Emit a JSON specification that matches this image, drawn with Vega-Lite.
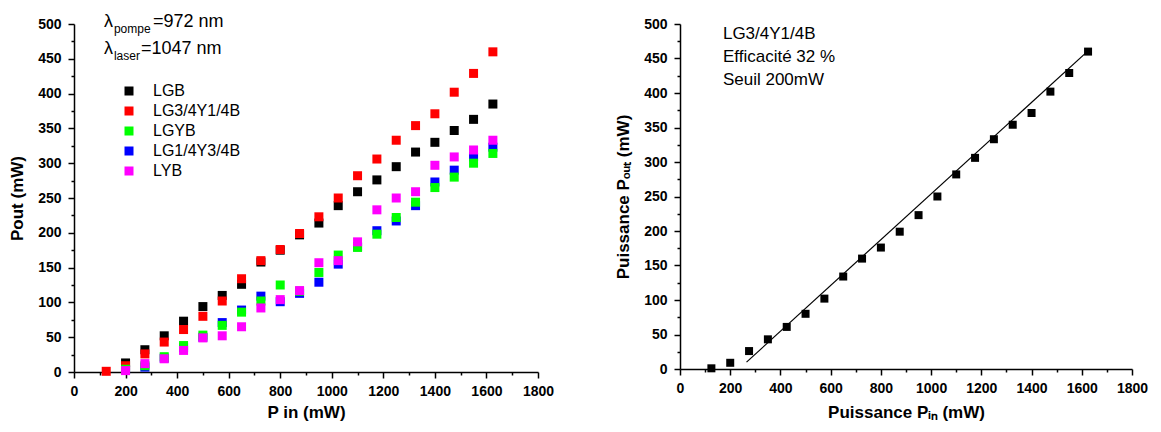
{
  "$schema": "https://vega.github.io/schema/vega-lite/v6.json",
  "padding": {"left": 8, "top": 12, "right": 5, "bottom": 5},
  "bounds": "flush",
  "spacing": 142,
  "background": "white",
  "config": {
    "view": {"stroke": null},
    "font": "Liberation Sans",
    "axis": {
      "grid": false,
      "domainColor": "black", "domainWidth": 1.5,
      "tickColor": "black", "tickWidth": 1.5,
      "labelFont": "Liberation Sans", "labelFontWeight": "bold", "labelFontSize": 14, "labelColor": "black",
      "titleFont": "Liberation Sans", "titleFontWeight": "bold", "titleFontSize": 17, "titleColor": "black",
      "labelOverlap": false, "labelFlush": false, "format": "d", "tickCount": 100
    },
    "axisX": {"labelPadding": 6, "titlePadding": 6},
    "axisY": {"labelPadding": 7, "titlePadding": 11}
  },
  "datasets": {
    "pts": [
      {"series": "LGB", "pin": 200, "pout": 13},
      {"series": "LGB", "pin": 275, "pout": 32},
      {"series": "LGB", "pin": 350, "pout": 52},
      {"series": "LGB", "pin": 425, "pout": 73},
      {"series": "LGB", "pin": 500, "pout": 94},
      {"series": "LGB", "pin": 575, "pout": 110},
      {"series": "LGB", "pin": 650, "pout": 126},
      {"series": "LGB", "pin": 725, "pout": 158},
      {"series": "LGB", "pin": 800, "pout": 175},
      {"series": "LGB", "pin": 875, "pout": 197},
      {"series": "LGB", "pin": 950, "pout": 214},
      {"series": "LGB", "pin": 1025, "pout": 239},
      {"series": "LGB", "pin": 1100, "pout": 259},
      {"series": "LGB", "pin": 1175, "pout": 276},
      {"series": "LGB", "pin": 1250, "pout": 295},
      {"series": "LGB", "pin": 1325, "pout": 316},
      {"series": "LGB", "pin": 1400, "pout": 330},
      {"series": "LGB", "pin": 1475, "pout": 347},
      {"series": "LGB", "pin": 1550, "pout": 363},
      {"series": "LGB", "pin": 1625, "pout": 385},
      {"series": "LG3/4Y1/4B", "pin": 125, "pout": 1},
      {"series": "LG3/4Y1/4B", "pin": 200, "pout": 9},
      {"series": "LG3/4Y1/4B", "pin": 275, "pout": 26},
      {"series": "LG3/4Y1/4B", "pin": 350, "pout": 43},
      {"series": "LG3/4Y1/4B", "pin": 425, "pout": 61},
      {"series": "LG3/4Y1/4B", "pin": 500, "pout": 80},
      {"series": "LG3/4Y1/4B", "pin": 575, "pout": 102},
      {"series": "LG3/4Y1/4B", "pin": 650, "pout": 134},
      {"series": "LG3/4Y1/4B", "pin": 725, "pout": 160},
      {"series": "LG3/4Y1/4B", "pin": 800, "pout": 176},
      {"series": "LG3/4Y1/4B", "pin": 875, "pout": 199},
      {"series": "LG3/4Y1/4B", "pin": 950, "pout": 223},
      {"series": "LG3/4Y1/4B", "pin": 1025, "pout": 250},
      {"series": "LG3/4Y1/4B", "pin": 1100, "pout": 282},
      {"series": "LG3/4Y1/4B", "pin": 1175, "pout": 306},
      {"series": "LG3/4Y1/4B", "pin": 1250, "pout": 333},
      {"series": "LG3/4Y1/4B", "pin": 1325, "pout": 354},
      {"series": "LG3/4Y1/4B", "pin": 1400, "pout": 371},
      {"series": "LG3/4Y1/4B", "pin": 1475, "pout": 402},
      {"series": "LG3/4Y1/4B", "pin": 1550, "pout": 429},
      {"series": "LG3/4Y1/4B", "pin": 1625, "pout": 460},
      {"series": "LG1/4Y3/4B", "pin": 200, "pout": 3},
      {"series": "LG1/4Y3/4B", "pin": 275, "pout": 7},
      {"series": "LG1/4Y3/4B", "pin": 350, "pout": 20},
      {"series": "LG1/4Y3/4B", "pin": 425, "pout": 35},
      {"series": "LG1/4Y3/4B", "pin": 500, "pout": 50},
      {"series": "LG1/4Y3/4B", "pin": 575, "pout": 71},
      {"series": "LG1/4Y3/4B", "pin": 650, "pout": 89},
      {"series": "LG1/4Y3/4B", "pin": 725, "pout": 109},
      {"series": "LG1/4Y3/4B", "pin": 800, "pout": 101},
      {"series": "LG1/4Y3/4B", "pin": 875, "pout": 113},
      {"series": "LG1/4Y3/4B", "pin": 950, "pout": 129},
      {"series": "LG1/4Y3/4B", "pin": 1025, "pout": 155},
      {"series": "LG1/4Y3/4B", "pin": 1100, "pout": 180},
      {"series": "LG1/4Y3/4B", "pin": 1175, "pout": 203},
      {"series": "LG1/4Y3/4B", "pin": 1250, "pout": 217},
      {"series": "LG1/4Y3/4B", "pin": 1325, "pout": 239},
      {"series": "LG1/4Y3/4B", "pin": 1400, "pout": 273},
      {"series": "LG1/4Y3/4B", "pin": 1475, "pout": 290},
      {"series": "LG1/4Y3/4B", "pin": 1550, "pout": 309},
      {"series": "LG1/4Y3/4B", "pin": 1625, "pout": 323},
      {"series": "LGYB", "pin": 200, "pout": 4},
      {"series": "LGYB", "pin": 275, "pout": 9},
      {"series": "LGYB", "pin": 350, "pout": 22},
      {"series": "LGYB", "pin": 425, "pout": 38},
      {"series": "LGYB", "pin": 500, "pout": 53},
      {"series": "LGYB", "pin": 575, "pout": 67},
      {"series": "LGYB", "pin": 650, "pout": 86},
      {"series": "LGYB", "pin": 725, "pout": 102},
      {"series": "LGYB", "pin": 800, "pout": 125},
      {"series": "LGYB", "pin": 875, "pout": 116},
      {"series": "LGYB", "pin": 950, "pout": 143},
      {"series": "LGYB", "pin": 1025, "pout": 168},
      {"series": "LGYB", "pin": 1100, "pout": 179},
      {"series": "LGYB", "pin": 1175, "pout": 198},
      {"series": "LGYB", "pin": 1250, "pout": 222},
      {"series": "LGYB", "pin": 1325, "pout": 244},
      {"series": "LGYB", "pin": 1400, "pout": 265},
      {"series": "LGYB", "pin": 1475, "pout": 280},
      {"series": "LGYB", "pin": 1550, "pout": 300},
      {"series": "LGYB", "pin": 1625, "pout": 314},
      {"series": "LYB", "pin": 200, "pout": 2},
      {"series": "LYB", "pin": 275, "pout": 12},
      {"series": "LYB", "pin": 350, "pout": 19},
      {"series": "LYB", "pin": 425, "pout": 31},
      {"series": "LYB", "pin": 500, "pout": 49},
      {"series": "LYB", "pin": 575, "pout": 52},
      {"series": "LYB", "pin": 650, "pout": 65},
      {"series": "LYB", "pin": 725, "pout": 92},
      {"series": "LYB", "pin": 800, "pout": 104},
      {"series": "LYB", "pin": 875, "pout": 117},
      {"series": "LYB", "pin": 950, "pout": 157},
      {"series": "LYB", "pin": 1025, "pout": 160},
      {"series": "LYB", "pin": 1100, "pout": 187},
      {"series": "LYB", "pin": 1175, "pout": 233},
      {"series": "LYB", "pin": 1250, "pout": 250},
      {"series": "LYB", "pin": 1325, "pout": 259},
      {"series": "LYB", "pin": 1400, "pout": 297},
      {"series": "LYB", "pin": 1475, "pout": 309},
      {"series": "LYB", "pin": 1550, "pout": 319},
      {"series": "LYB", "pin": 1625, "pout": 333}
    ]
  },
  "hconcat": [
    {
      "width": 464,
      "height": 348,
      "layer": [
        {
          "data": {"name": "pts"},
          "mark": {"type": "point", "shape": "square", "filled": true, "size": 81, "opacity": 1},
          "encoding": {
            "x": {
              "field": "pin", "type": "quantitative",
              "scale": {"domain": [0, 1800], "nice": false},
              "axis": {
                "title": "P in (mW)",
                "format": "d",
                "labelOverlap": false,
                "tickCount": 100,
                "values": [0, 100, 200, 300, 400, 500, 600, 700, 800, 900, 1000, 1100, 1200, 1300, 1400, 1500, 1600, 1700, 1800],
                "labelExpr": "datum.value % 200 === 0 ? datum.label : ''",
                "tickSize": {"condition": {"test": "datum.value % 200 === 0", "value": 6}, "value": 3}
              }
            },
            "y": {
              "field": "pout", "type": "quantitative",
              "scale": {"domain": [0, 500], "nice": false},
              "axis": {
                "title": "Pout (mW)",
                "format": "d",
                "labelOverlap": false,
                "tickCount": 100,
                "values": [0, 25, 50, 75, 100, 125, 150, 175, 200, 225, 250, 275, 300, 325, 350, 375, 400, 425, 450, 475, 500],
                "labelExpr": "datum.value % 50 === 0 ? datum.label : ''",
                "tickSize": {"condition": {"test": "datum.value % 50 === 0", "value": 6}, "value": 3}
              }
            },
            "color": {
              "field": "series", "type": "nominal",
              "scale": {
                "domain": ["LGB", "LG3/4Y1/4B", "LGYB", "LG1/4Y3/4B", "LYB"],
                "range": ["#000000", "#ff0000", "#00ff00", "#0000ff", "#ff00ff"]
              },
              "legend": {
                "title": null,
                "orient": "none",
                "legendX": 47,
                "legendY": 59,
                "padding": 0,
                "symbolType": "square",
                "symbolSize": 81,
                "symbolStrokeWidth": 0,
                "labelFont": "Liberation Sans",
                "labelFontSize": 16,
                "labelColor": "black",
                "labelOffset": 16,
                "rowPadding": 4
              }
            }
          }
        },
        {
          "data": {"values": [{}]},
          "mark": {"type": "text", "align": "left", "baseline": "alphabetic", "fontSize": 18, "font": "Liberation Sans", "color": "black"},
          "encoding": {"x": {"datum": 116}, "y": {"datum": 496}, "text": {"value": "λ"}}
        },
        {
          "data": {"values": [{}]},
          "mark": {"type": "text", "align": "left", "baseline": "alphabetic", "fontSize": 12, "font": "Liberation Sans", "color": "black", "dx": 10, "dy": 6},
          "encoding": {"x": {"datum": 116}, "y": {"datum": 496}, "text": {"value": "pompe"}}
        },
        {
          "data": {"values": [{}]},
          "mark": {"type": "text", "align": "left", "baseline": "alphabetic", "fontSize": 18, "font": "Liberation Sans", "color": "black", "dx": 49},
          "encoding": {"x": {"datum": 116}, "y": {"datum": 496}, "text": {"value": "=972 nm"}}
        },
        {
          "data": {"values": [{}]},
          "mark": {"type": "text", "align": "left", "baseline": "alphabetic", "fontSize": 18, "font": "Liberation Sans", "color": "black"},
          "encoding": {"x": {"datum": 116}, "y": {"datum": 457}, "text": {"value": "λ"}}
        },
        {
          "data": {"values": [{}]},
          "mark": {"type": "text", "align": "left", "baseline": "alphabetic", "fontSize": 12, "font": "Liberation Sans", "color": "black", "dx": 10, "dy": 6},
          "encoding": {"x": {"datum": 116}, "y": {"datum": 457}, "text": {"value": "laser"}}
        },
        {
          "data": {"values": [{}]},
          "mark": {"type": "text", "align": "left", "baseline": "alphabetic", "fontSize": 18, "font": "Liberation Sans", "color": "black", "dx": 37},
          "encoding": {"x": {"datum": 116}, "y": {"datum": 457}, "text": {"value": "=1047 nm"}}
        }
      ]
    },
    {
      "width": 452,
      "height": 345,
      "layer": [
        {
          "data": {"name": "pts"},
          "transform": [{"filter": "datum.series === 'LG3/4Y1/4B'"}],
          "mark": {"type": "point", "shape": "square", "filled": true, "size": 64, "color": "black", "opacity": 1},
          "encoding": {
            "x": {
              "field": "pin", "type": "quantitative",
              "scale": {"domain": [0, 1800], "nice": false},
              "axis": {
                "title": "Puissance Pᵢₙ (mW)",
                "titlePadding": 9,
                "format": "d",
                "labelOverlap": false,
                "tickCount": 100,
                "values": [0, 100, 200, 300, 400, 500, 600, 700, 800, 900, 1000, 1100, 1200, 1300, 1400, 1500, 1600, 1700, 1800],
                "labelExpr": "datum.value % 200 === 0 ? datum.label : ''",
                "tickSize": {"condition": {"test": "datum.value % 200 === 0", "value": 6}, "value": 3}
              }
            },
            "y": {
              "field": "pout", "type": "quantitative",
              "scale": {"domain": [0, 500], "nice": false},
              "axis": {
                "title": "Puissance Pₒᵤₜ (mW)",
                "format": "d",
                "labelOverlap": false,
                "tickCount": 100,
                "values": [0, 25, 50, 75, 100, 125, 150, 175, 200, 225, 250, 275, 300, 325, 350, 375, 400, 425, 450, 475, 500],
                "labelExpr": "datum.value % 50 === 0 ? datum.label : ''",
                "tickSize": {"condition": {"test": "datum.value % 50 === 0", "value": 6}, "value": 3}
              }
            }
          }
        },
        {
          "data": {"values": [{"pin": 265, "pout": 10}, {"pin": 1625, "pout": 461}]},
          "mark": {"type": "line", "color": "black", "strokeWidth": 1.2},
          "encoding": {
            "x": {"field": "pin", "type": "quantitative"},
            "y": {"field": "pout", "type": "quantitative"}
          }
        },
        {
          "data": {"values": [{}]},
          "mark": {"type": "text", "align": "left", "baseline": "alphabetic", "fontSize": 17, "lineHeight": 23, "font": "Liberation Sans", "color": "black"},
          "encoding": {
            "x": {"datum": 171},
            "y": {"datum": 478},
            "text": {"value": ["LG3/4Y1/4B", "Efficacité 32 %", "Seuil 200mW"]}
          }
        }
      ]
    }
  ]
}
